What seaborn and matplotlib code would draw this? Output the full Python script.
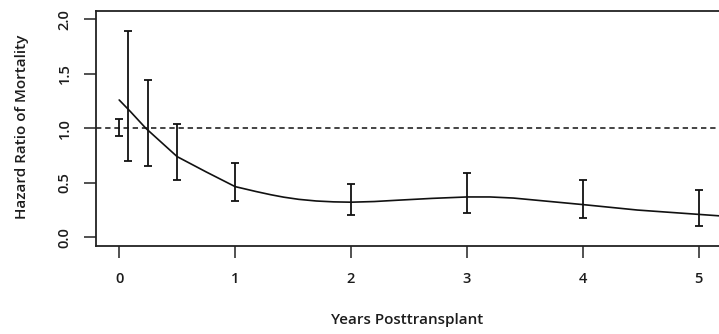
import matplotlib
matplotlib.use("Agg")
import matplotlib.pyplot as plt
import seaborn as sns
import numpy as np

# fitted hazard-ratio curve
curve_x = [0, 0.1, 0.23, 0.5, 0.75, 1.0, 1.18, 1.31, 1.42, 1.55, 1.7, 1.85, 2.0, 2.2, 2.4, 2.7, 3.0, 3.2, 3.4, 3.7, 4.0, 4.47, 5.0, 5.2]
curve_y = [1.26, 1.15, 1.0, 0.74, 0.60, 0.465, 0.42, 0.39, 0.368, 0.348, 0.333, 0.325, 0.322, 0.328, 0.34, 0.357, 0.37, 0.37, 0.36, 0.33, 0.30, 0.25, 0.21, 0.195]

# confidence intervals at each time point
bar_x = [0, 0.08, 0.25, 0.5, 1, 2, 3, 4, 5]
bar_lower = [0.93, 0.70, 0.65, 0.53, 0.33, 0.205, 0.22, 0.175, 0.10]
bar_upper = [1.085, 1.895, 1.44, 1.037, 0.68, 0.49, 0.59, 0.53, 0.43]

x_ticks = [0, 1, 2, 3, 4, 5]
y_ticks = [0.0, 0.5, 1.0, 1.5, 2.0]
x_label = "Years Posttransplant"
y_label = "Hazard Ratio of Mortality"

sns.set_style("ticks")
plt.rcParams['font.family'] = ['Open Sans', 'DejaVu Sans']

fig = plt.figure(figsize=(7.19, 3.34), dpi=100)
W, H = 719, 334
ax = fig.add_axes([96 / W, 88 / H, 626 / W, (246 - 10.6) / H])

ink = "#111111"
text_col = "#1c1c1c"

ax.axhline(1.0, color=ink, lw=1.1, ls=(0, (3.5, 2.5)))
sns.lineplot(x=curve_x, y=curve_y, color=ink, lw=1.2, ax=ax)

lo = np.array(bar_lower)
hi = np.array(bar_upper)
mid = (lo + hi) / 2
ax.errorbar(bar_x, mid, yerr=(hi - lo) / 2, fmt="none", ecolor=ink,
            elinewidth=1.3, capsize=3.2, capthick=1.3)

ax.set_xlim(-0.2, 5.2)
ax.set_ylim(-0.08, 2.08)
ax.set_xticks(x_ticks)
ax.set_xticklabels([str(t) for t in x_ticks])
ax.set_yticks(y_ticks)
ax.set_yticklabels([f"{t:.1f}" for t in y_ticks], rotation=90, va="center")

for s in ax.spines.values():
    s.set_visible(True)
    s.set_color("#222222")
    s.set_linewidth(1.3)

ax.tick_params(axis="both", length=8.5, width=1.1, color="#222222",
               labelsize=10.5, labelcolor=text_col)
ax.tick_params(axis="x", pad=10)
ax.tick_params(axis="y", pad=9)
for lab in ax.get_xticklabels() + ax.get_yticklabels():
    lab.set_fontweight("semibold")

fig.text(407 / W, 1 - 320 / H, x_label, ha="center", va="center",
         fontsize=11, color=text_col, fontweight="semibold")
fig.text(22 / W, 1 - 127 / H, y_label, ha="center", va="center",
         rotation=90, fontsize=11, color=text_col, fontweight="semibold")

fig.savefig("out.png", dpi=100)
